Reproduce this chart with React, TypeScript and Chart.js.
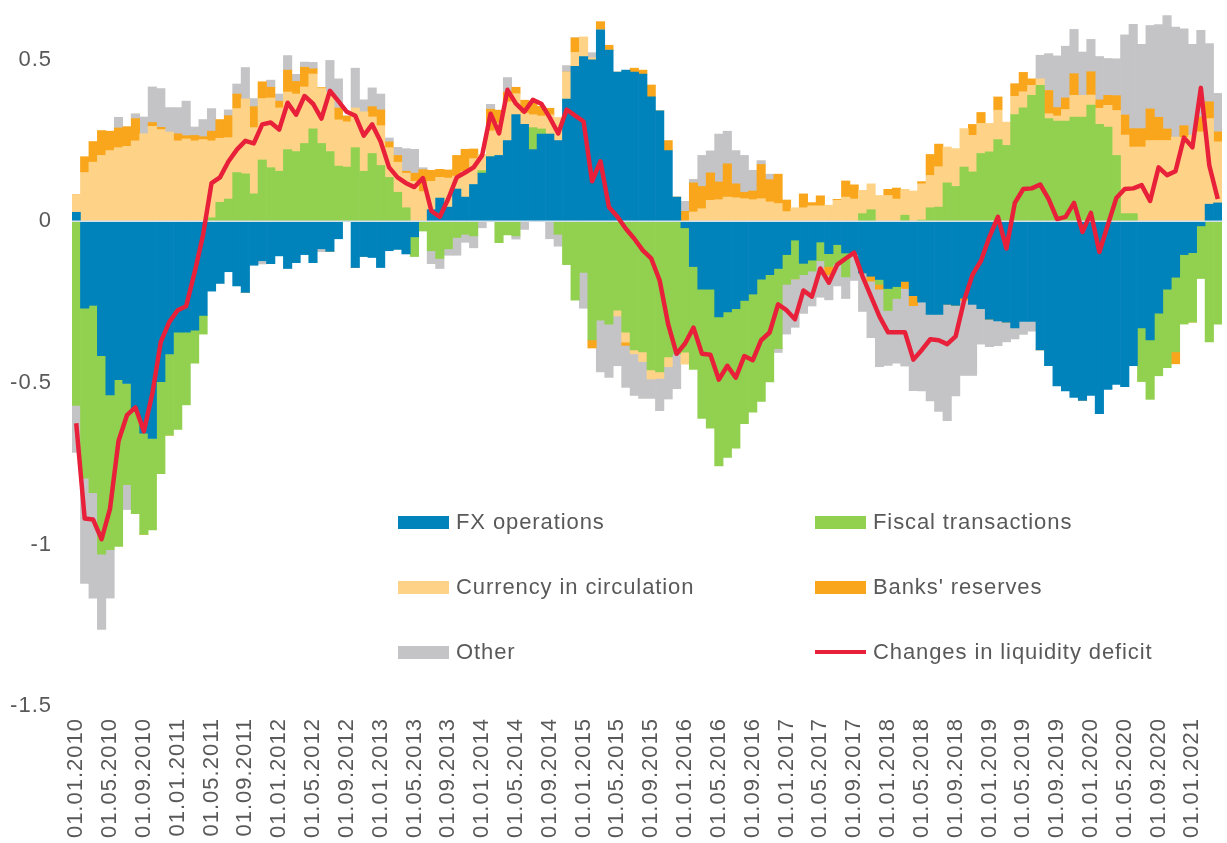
import React, { useEffect, useRef } from 'react';
import { Chart, registerables } from 'chart.js';

Chart.register(...registerables);

// ---- categories: monthly, 01.01.2010 .. 01.04.2021 ----
const START_YEAR = 2010;
const MONTH_COUNT = 136;
const categories: string[] = [];
for (let i = 0; i < MONTH_COUNT; i++) {
  const m = (i % 12) + 1;
  const y = START_YEAR + Math.floor(i / 12);
  categories.push(`01.${m < 10 ? '0' + m : m}.${y}`);
}
const LABEL_EVERY = 4;

// ---- series values ----
const fxOperations = [
  0.028, -0.269, -0.26, -0.416, -0.537, -0.49, -0.502, -0.588, -0.656, -0.672,
  -0.496, -0.41, -0.343, -0.343, -0.337, -0.291, -0.216, -0.192, -0.156, -0.2,
  -0.22, -0.136, -0.122, -0.131, -0.107, -0.146, -0.128, -0.103, -0.128, -0.085,
  -0.093, -0.054, 0, -0.143, -0.109, -0.112, -0.143, -0.091, -0.087, -0.101,
  -0.048, 0, 0.036, 0.072, 0.044, 0.1, 0.075, 0.114, 0.149, 0.2,
  0.204, 0.25, 0.33, 0.3, 0.222, 0.27, 0.27, 0.25, 0.378, 0.48,
  0.51, 0.5, 0.593, 0.53, 0.462, 0.468, 0.462, 0.456, 0.385, 0.342,
  0.219, 0.075, -0.02, -0.14, -0.21, -0.21, -0.296, -0.28, -0.27, -0.245,
  -0.225, -0.179, -0.165, -0.146, -0.103, -0.058, -0.13, -0.12, -0.064, -0.1,
  -0.072, -0.098, -0.103, -0.16, -0.17, -0.18, -0.208, -0.202, -0.186, -0.23,
  -0.25, -0.288, -0.288, -0.257, -0.26, -0.238, -0.257, -0.27, -0.303, -0.308,
  -0.312, -0.33, -0.31, -0.31, -0.398, -0.447, -0.509, -0.525, -0.545, -0.554,
  -0.539, -0.595, -0.52, -0.505, -0.512, -0.447, -0.33, -0.367, -0.284, -0.21,
  -0.173, -0.103, -0.097, -0.014, 0.053, 0.057,
];

const fiscalTransactions = [
  -0.57, -0.526, -0.58, -0.614, -0.479, -0.516, -0.313, -0.317, -0.313, -0.283,
  -0.285, -0.252, -0.301, -0.225, -0.102, -0.058, 0.011, 0.059, 0.069, 0.151,
  0.147, 0.085, 0.19, 0.166, 0.155, 0.222, 0.216, 0.241, 0.286, 0.241,
  0.216, 0.171, 0.168, 0.228, 0.155, 0.21, 0.173, 0.136, 0.09, 0.042,
  -0.061, -0.03, -0.091, -0.115, -0.085, -0.05, -0.04, -0.045, 0.008, 0,
  -0.066, -0.042, -0.045, 0, 0.068, 0.016, 0, -0.04, -0.134, -0.244,
  -0.158, -0.367, -0.306, -0.318, -0.275, -0.343, -0.398, -0.404, -0.46, -0.466,
  -0.42, -0.41, -0.385, -0.318, -0.4, -0.43, -0.461, -0.451, -0.432, -0.381,
  -0.366, -0.378, -0.332, -0.248, -0.092, -0.12, -0.035, -0.034, -0.058, -0.04,
  -0.061, -0.074, 0, 0.024, 0.036, -0.015, -0.068, -0.037, 0.019, 0,
  0.004, 0.042, 0.044, 0.119, 0.108, 0.168, 0.153, 0.21, 0.215, 0.253,
  0.235, 0.33, 0.351, 0.39, 0.421, 0.318, 0.31, 0.31, 0.323, 0.323,
  0.36, 0.3, 0.292, 0.204, 0.024, 0.024, -0.166, -0.184, -0.194, -0.243,
  -0.231, -0.215, -0.215, -0.163, -0.373, -0.318,
];

const currencyInCirculation = [
  0.055, 0.151, 0.183, 0.204, 0.219, 0.228, 0.232, 0.249, 0.271, 0.294,
  0.284, 0.276, 0.249, 0.255, 0.249, 0.253, 0.238, 0.198, 0.19, 0.198,
  0.232, 0.205, 0.19, 0.216, 0.196, 0.178, 0.178, 0.175, 0.17, 0.17,
  0.184, 0.143, 0.14, 0.123, 0.184, 0.113, 0.123, 0.092, 0.093, 0.107,
  0.124, 0.092, 0.088, 0.064, 0.09, 0.04, 0.08, 0.08, 0.05, 0.08,
  0.1, 0.12, 0.065, 0.035, 0.04, 0.04, 0.06, 0.07, 0.084, 0.043,
  0.06, 0.006, 0, 0, -0.018, -0.031, -0.012, -0.03, -0.028, -0.02,
  -0.03, 0, -0.037, 0.029, 0.039, 0.065, 0.067, 0.075, 0.073, 0.07,
  0.067, 0.07, 0.06, 0.055, 0.03, 0.042, 0.042, 0.048, 0.048, 0.05,
  0.065, 0.075, 0.069, 0.072, 0.08, 0.08, 0.08, 0.069, 0.08, 0.094,
  0.112, 0.1, 0.125, 0.111, 0.117, 0.119, 0.113, 0.093, 0.088, 0.091,
  0.072, 0.057, 0.05, 0.031, 0.02, 0.015, 0.016, 0.036, 0.067, 0.067,
  0.031, 0.05, 0.067, 0.139, 0.243, 0.206, 0.23, 0.25, 0.25, 0.25,
  0.261, 0.26, 0.266, 0.277, 0.265, 0.189,
];

const banksReserves = [
  0, 0.049, 0.064, 0.077, 0.06, 0.061, 0.061, 0.069, 0, 0.012,
  0.007, 0, 0.022, 0.01, 0.017, 0.009, 0.03, 0.058, 0.068, 0.045,
  0, 0.065, 0.052, 0.033, 0.021, 0.068, 0.039, 0.061, 0.016, 0.003,
  0, 0.037, 0.018, 0, 0, 0.032, 0.049, 0.018, 0.021, 0.006,
  0.025, 0.068, 0.034, 0.025, 0.025, 0.064, 0.068, 0.03, 0, 0.067,
  0.04, 0.03, 0.02, 0.04, 0.037, 0.03, 0.02, 0, 0, 0.045,
  0, -0.025, 0.025, 0.015, 0, -0.01, 0.012, 0.012, 0.037, 0,
  0.031, 0, 0.031, 0.09, 0.069, 0.085, 0.055, 0.103, 0.043, 0.02,
  0.027, 0.106, 0.069, 0.091, 0.036, 0, 0.043, 0.01, 0.031, -0.026,
  0.003, 0.05, 0.044, 0, -0.015, -0.015, 0.019, 0.034, -0.022, -0.031,
  0.007, 0.065, 0.07, 0, 0, -0.006, 0.034, 0.034, 0, 0.041,
  0, 0.039, 0.06, 0.02, 0, 0.072, 0.026, 0.036, 0.067, 0,
  0.072, 0.026, 0.031, 0.046, 0.062, 0.057, 0.057, 0.098, 0.072, 0.036,
  -0.037, 0.036, 0, 0.046, 0.052, 0.031,
];

const other = [
  -0.145, -0.326, -0.326, -0.233, -0.15, 0.033, -0.077, 0.015, 0.052, 0.11,
  0.12, 0.076, 0.081, 0.107, 0.026, 0.053, 0.07, 0, 0.018, 0.031,
  0.097, 0.025, -0.01, 0.022, 0.022, 0.045, 0.022, 0.016, 0.02, -0.009,
  0.098, 0.09, 0, 0.123, 0.037, 0.058, 0.049, 0.012, 0.025, 0.07,
  0.074, 0.006, -0.04, -0.031, -0.02, -0.055, -0.025, -0.037, -0.02, 0.015,
  0, 0.045, -0.01, -0.025, 0, 0, -0.054, -0.037, 0.02, 0,
  -0.111, 0.016, -0.16, -0.165, -0.154, -0.13, -0.129, -0.114, -0.06, -0.1,
  -0.1, -0.108, 0.031, 0.011, 0.096, 0.068, 0.148, 0.101, 0.103, 0.114,
  0.064, 0.012, 0.017, -0.012, -0.154, -0.15, -0.12, -0.108, -0.113, -0.077,
  -0.067, -0.067, -0.08, -0.119, -0.175, -0.24, -0.17, -0.2, -0.24, -0.263,
  -0.275, -0.268, -0.3, -0.36, -0.28, -0.233, -0.22, -0.11, -0.085, -0.077,
  -0.061, -0.034, -0.04, -0.03, 0.073, 0.114, 0.16, 0.16, 0.137, 0.134,
  0.1, 0.134, 0.114, 0.114, 0.248, 0.323, 0.261, 0.258, 0.287, 0.351,
  0.34, 0.3, 0.282, 0.268, 0.18, 0.119,
];

const liquidityDeficitChange = [
  -0.625, -0.92, -0.923, -0.984, -0.889, -0.68, -0.6, -0.576, -0.65, -0.533,
  -0.373, -0.312, -0.275, -0.263, -0.158, -0.042, 0.118, 0.136, 0.185, 0.222,
  0.249, 0.241, 0.3, 0.306, 0.284, 0.367, 0.33, 0.388, 0.364, 0.318,
  0.404, 0.372, 0.339, 0.327, 0.265, 0.3, 0.247, 0.167, 0.136, 0.118,
  0.106, 0.134, 0.032, 0.014, 0.07, 0.136, 0.151, 0.167, 0.204, 0.333,
  0.272, 0.407, 0.364, 0.339, 0.376, 0.364, 0.321, 0.272, 0.346, 0.327,
  0.309, 0.124, 0.186, 0.044, 0.014, -0.023, -0.054, -0.09, -0.115, -0.183,
  -0.318, -0.41, -0.378, -0.329, -0.41, -0.413, -0.49, -0.447, -0.484, -0.417,
  -0.43, -0.368, -0.344, -0.257, -0.275, -0.303, -0.214, -0.233, -0.146, -0.19,
  -0.134, -0.115, -0.097, -0.171, -0.233, -0.295, -0.343, -0.343, -0.343, -0.428,
  -0.398, -0.365, -0.368, -0.38, -0.356, -0.245, -0.165, -0.122, -0.048, 0.014,
  -0.084, 0.057, 0.1, 0.102, 0.114, 0.069, 0.007, 0.014, 0.057, -0.033,
  0.026, -0.095, -0.011, 0.072, 0.1, 0.102, 0.112, 0.063, 0.167, 0.143,
  0.155, 0.259, 0.229, 0.413, 0.173, 0.069,
];

const Y_MIN = -1.5;
const Y_MAX = 0.685;
const Y_STEP = 0.5;

const COLORS = {
  fx: '#0082bb',
  fiscal: '#92d050',
  currency: '#fed387',
  banks: '#f9a61c',
  other: '#c4c4c6',
  line: '#e8203a',
  text: '#595959',
  zero: '#d3e0ea',
};

const FONT_FAMILY = "'Liberation Sans', Arial, Helvetica, sans-serif";

const legendItems = [
  { label: 'FX operations', color: COLORS.fx, type: 'box', col: 0, row: 0 },
  { label: 'Fiscal transactions', color: COLORS.fiscal, type: 'box', col: 1, row: 0 },
  { label: 'Currency in circulation', color: COLORS.currency, type: 'box', col: 0, row: 1 },
  { label: "Banks' reserves", color: COLORS.banks, type: 'box', col: 1, row: 1 },
  { label: 'Other', color: COLORS.other, type: 'box', col: 0, row: 2 },
  { label: 'Changes in liquidity deficit', color: COLORS.line, type: 'line', col: 1, row: 2 },
];

const zeroLinePlugin = {
  id: 'zeroLine',
  beforeDatasetDraw(chart: any, args: any) {
    if (args.index !== 5) return;
    const { ctx, chartArea, scales } = chart;
    const y0 = scales.y.getPixelForValue(0);
    ctx.save();
    ctx.strokeStyle = COLORS.zero;
    ctx.lineWidth = 1.5;
    ctx.beginPath();
    ctx.moveTo(chartArea.left, y0);
    ctx.lineTo(chartArea.right, y0);
    ctx.stroke();
    ctx.restore();
  },
};

const letterSpacingPlugin = {
  id: 'letterSpacing',
  beforeLayout(chart: any) {
    try { chart.ctx.letterSpacing = '1px'; } catch (e) { /* ignore */ }
  },
  beforeDraw(chart: any) {
    try { chart.ctx.letterSpacing = '1px'; } catch (e) { /* ignore */ }
  },
};

export default function App() {
  const canvasRef = useRef<HTMLCanvasElement | null>(null);

  useEffect(() => {
    if (!canvasRef.current) return;
    const barCommon = {
      type: 'bar' as const,
      stack: 'liq',
      borderWidth: 0,
      barPercentage: 1,
      categoryPercentage: 1,
      order: 1,
    };
    const chart = new Chart(canvasRef.current, {
      type: 'bar',
      data: {
        labels: categories,
        datasets: [
          { ...barCommon, label: 'FX operations', data: fxOperations, backgroundColor: COLORS.fx },
          { ...barCommon, label: 'Fiscal transactions', data: fiscalTransactions, backgroundColor: COLORS.fiscal },
          { ...barCommon, label: 'Currency in circulation', data: currencyInCirculation, backgroundColor: COLORS.currency },
          { ...barCommon, label: "Banks' reserves", data: banksReserves, backgroundColor: COLORS.banks },
          { ...barCommon, label: 'Other', data: other, backgroundColor: COLORS.other },
          {
            type: 'line' as const,
            label: 'Changes in liquidity deficit',
            data: liquidityDeficitChange,
            borderColor: COLORS.line,
            backgroundColor: COLORS.line,
            borderWidth: 4.5,
            pointRadius: 0,
            tension: 0,
            fill: false,
            order: 0,
            borderJoinStyle: 'round' as const,
          } as any,
        ],
      },
      options: {
        animation: false,
        responsive: true,
        maintainAspectRatio: false,
        layout: { padding: { left: 0, right: 5, top: 0, bottom: 0 } },
        plugins: {
          legend: { display: false },
          tooltip: { enabled: false },
        },
        scales: {
          x: {
            stacked: true,
            offset: true,
            grid: { display: false, drawTicks: false },
            border: { display: false },
            ticks: {
              autoSkip: false,
              minRotation: 90,
              maxRotation: 90,
              padding: 12,
              color: COLORS.text,
              font: { family: FONT_FAMILY, size: 22 },
              callback: (_v: any, idx: number) => (idx % LABEL_EVERY === 0 ? categories[idx] : ''),
            },
            afterFit: (scale: any) => {
              scale.height = 137;
              scale.paddingLeft = 0;
              scale.paddingRight = 0;
            },
          },
          y: {
            stacked: true,
            min: Y_MIN,
            max: Y_MAX,
            grid: { display: false, drawTicks: false },
            border: { display: false },
            ticks: {
              stepSize: Y_STEP,
              includeBounds: false,
              padding: 20,
              color: COLORS.text,
              font: { family: FONT_FAMILY, size: 22 },
              callback: (v: any) => {
                const n = Number(v);
                return Math.abs(n / Y_STEP - Math.round(n / Y_STEP)) < 1e-6 ? String(Math.round(n * 10) / 10) : '';
              },
            },
            afterFit: (scale: any) => {
              scale.width = 72;
              scale.paddingTop = 0;
              scale.paddingBottom = 0;
            },
          },
        },
      },
      plugins: [zeroLinePlugin, letterSpacingPlugin],
    } as any);
    return () => chart.destroy();
  }, []);

  const colX = [398, 815];
  const rowY = [522, 587, 652];

  return (
    <div style={{ position: 'absolute', left: 0, top: 0, width: 1227, height: 843, background: '#fff' }}>
      <canvas ref={canvasRef} />
      {legendItems.map((it) => (
        <div
          key={it.label}
          style={{
            position: 'absolute',
            left: colX[it.col],
            top: rowY[it.row] - 15,
            height: 30,
            display: 'flex',
            alignItems: 'center',
            fontFamily: FONT_FAMILY,
            fontSize: 22,
            letterSpacing: '0.9px',
            color: COLORS.text,
            whiteSpace: 'nowrap',
          }}
        >
          <span
            style={{
              display: 'inline-block',
              width: 51,
              height: it.type === 'line' ? 4 : 13,
              background: it.color,
              marginRight: 7,
            }}
          />
          <span>{it.label}</span>
        </div>
      ))}
    </div>
  );
}
